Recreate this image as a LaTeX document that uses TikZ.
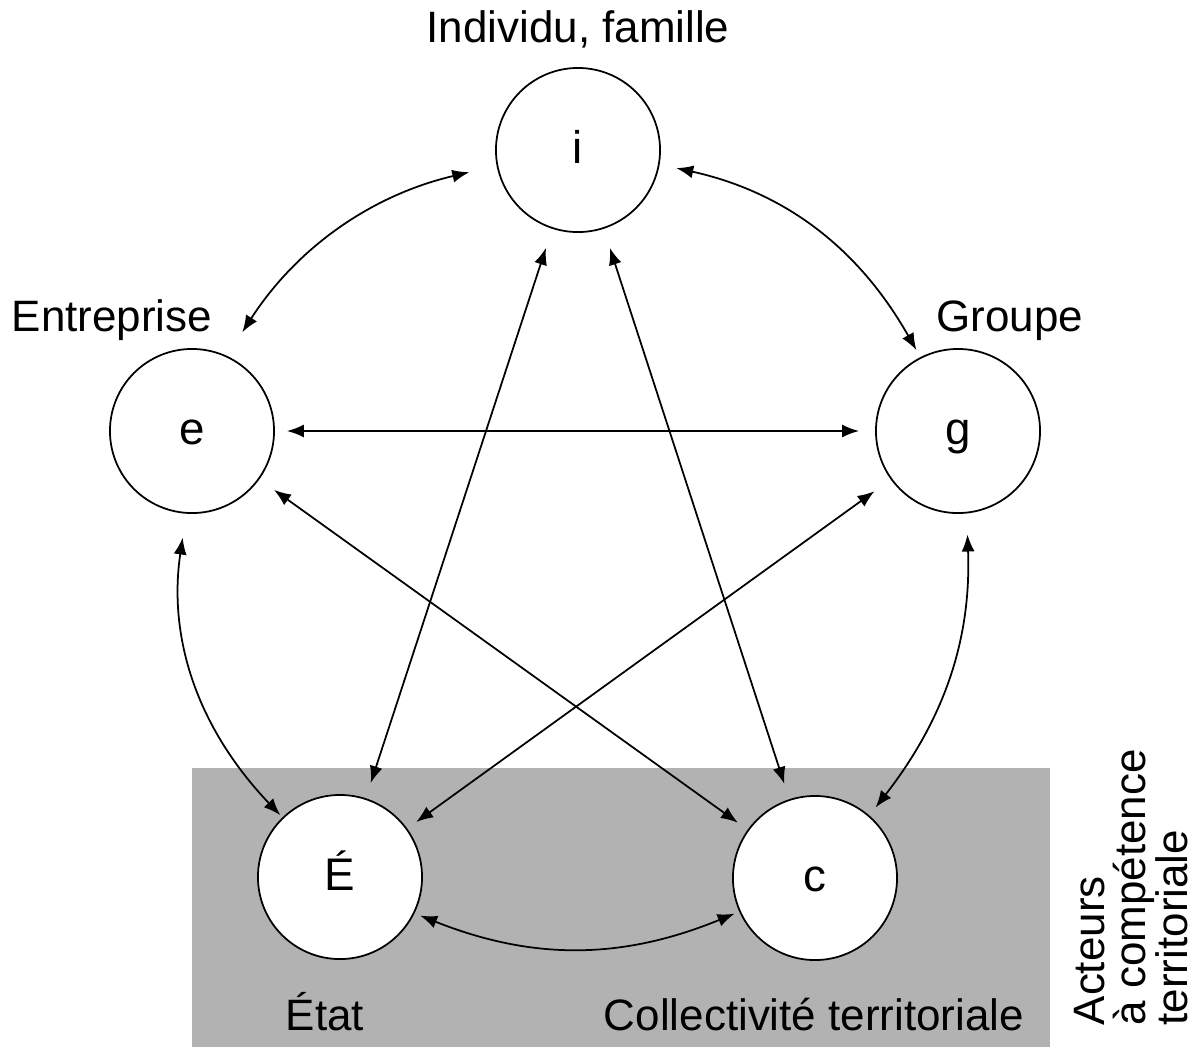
\documentclass[tikz,border=0pt]{standalone}
\usepackage{fontspec}
\setmainfont{Liberation Sans}
\usetikzlibrary{arrows.meta}

\tikzset{
  actor/.style={circle,draw,line width=0.5pt,fill=white,minimum size=1.64cm,inner sep=0pt,text height=7.5pt,text depth=0pt,font=\fontsize{13}{15}\selectfont},
  lbl/.style={inner sep=0pt,font=\fontsize{12.5}{15}\selectfont},
  link/.style={{Latex[length=1.7mm,width=1.3mm]}-{Latex[length=1.7mm,width=1.3mm]},line width=0.5pt},
}

\begin{document}
\begin{tikzpicture}[x=0.01cm,y=-0.01cm]
    \useasboundingbox (0,0) rectangle (1196,1047);
    \fill[black!30] (192,768) rectangle (1050,1047);
    \def\us{i/i/{578,150},e/e/{192,431},g/g/{958,431},E/É/{340,877},c/c/{815,878}}
    %        individu     entreprise    groupe       etat          collectivite
    \foreach \n/\t/\p in \us {\node[actor] (\n) at (\p) {\t};}
    \node[lbl,anchor=base] (ti) at (578,42) {Individu, famille};
    \node[lbl,anchor=base] (te) at (112,331) {Entreprise};
    \node[lbl,anchor=base] (tg) at (1010,331) {Groupe};
    \node[lbl,anchor=base] (tE) at (325,1030) {État};
    \node[lbl,anchor=base] (tc) at (814,1030) {Collectivité territoriale};
    \node[lbl,rotate=90,anchor=west,align=left,font=\fontsize{12.5}{11.7}\selectfont] (tzone) at (1131,1026) {Acteurs\\à compétence\\territoriale};
    % arcs around
    \draw[link,shorten <=2.8mm,shorten >=2.8mm] (i.191) to[bend right=22] (e.65);
    \draw[link,shorten <=1.7mm,shorten >=0.8mm] (i.350) to[bend left=24] (g.117);
    \draw[link,shorten <=2.4mm,shorten >=0.3mm] (e.266) to[bend right=26] (E.134);
    \draw[link,shorten <=2.1mm,shorten >=1mm] (g.276) to[bend left=20] (c.49);
    \draw[link,shorten <=0.6mm,shorten >=0.5mm] (E.334) to[bend right=22] (c.204);
    % straight ones
    \draw[link,shorten <=2mm,shorten >=1.6mm] (i) -- (E);
    \draw[link,shorten <=2mm,shorten >=1.6mm] (i) -- (c);
    \draw[link,shorten <=1.2mm,shorten >=1.6mm] (e) -- (g);
    \draw[link,shorten <=1.8mm,shorten >=1.2mm] (e) -- (c);
    \draw[link,shorten <=2mm,shorten >=1.1mm] (g) -- (E);
\end{tikzpicture}
\end{document}
